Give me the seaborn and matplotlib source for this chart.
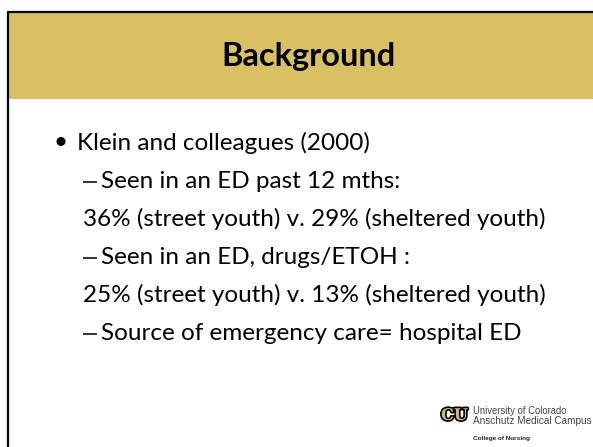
import matplotlib
matplotlib.use("Agg")
import matplotlib.pyplot as plt
import matplotlib.patheffects as pe
from matplotlib.patches import Rectangle
import seaborn as sns

# ---- slide content (text "data") ----
title_text = "Background"
line_texts = [
    "Klein and colleagues (2000)",
    "Seen in an ED past 12 mths:",
    "36% (street youth) v. 29% (sheltered youth)",
    "Seen in an ED, drugs/ETOH :",
    "25% (street youth) v. 13% (sheltered youth)",
    "Source of emergency care= hospital ED",
]
line_levels = ["bullet", "dash", "plain", "dash", "plain", "dash"]
logo_mark = "CU"
logo_lines = ["University of Colorado", "Anschutz Medical Campus"]
logo_sub = "College of Nursing"

sns.set_theme(style="white")
plt.rcParams['font.family'] = ['Lato', 'DejaVu Sans']

W, H = 593, 447
fig = plt.figure(figsize=(W / 100, H / 100), dpi=100)
fig.patch.set_facecolor("white")
ax = fig.add_axes([0, 0, 1, 1])
ax.set_xlim(0, W)
ax.set_ylim(H, 0)
ax.axis("off")

gold = "#D9C163"
ax.add_patch(Rectangle((9, 13), W - 9, 86, facecolor=gold, edgecolor="none"))
ax.plot([7, W], [12, 12], color="black", lw=1.6, solid_capstyle="butt")
ax.plot([8, 8], [11.5, H], color="black", lw=1.6, solid_capstyle="butt")

fig.canvas.draw()
r = fig.canvas.get_renderer()


def fit(t, target_px):
    w = t.get_window_extent(r).width
    t.set_fontsize(t.get_fontsize() * target_px / w)
    return t.get_fontsize()


# Title
tt = ax.text(308, 66, title_text, ha="center", va="baseline",
             fontweight="bold", fontsize=24, color="black")
fit(tt, 174)

# Body
base_y = 150
step = 38
texts = []
for i, (s, lvl) in enumerate(zip(line_texts, line_levels)):
    y = base_y + step * i
    if lvl == "bullet":
        x = 77
    elif lvl == "dash":
        x = 101
    else:
        x = 83
    texts.append(ax.text(x, y, s, ha="left", va="baseline", fontsize=18, color="black"))
fs = fit(texts[2], 462)
for t in texts:
    t.set_fontsize(fs)
for i, lvl in enumerate(line_levels):
    y = base_y + step * i
    if lvl == "bullet":
        ax.text(53, y - 1, "\u2022", ha="left", va="baseline", fontsize=fs, color="black")
    elif lvl == "dash":
        ax.plot([83, 97], [y - 6.5, y - 6.5], color="black", lw=1.1, solid_capstyle="butt")

# Logo
cu_gold = "#CFB87C"
stroke = [pe.withStroke(linewidth=2.4, foreground="black")]
mk = ax.text(441, 420, logo_mark, ha="left", va="baseline", fontsize=12, fontweight="bold",
             color=cu_gold, family=["DejaVu Serif"], path_effects=stroke)
fit(mk, 27)
l1 = ax.text(473, 414, logo_lines[0], ha="left", va="baseline", fontsize=8,
             color="#444444", family=["Liberation Sans"])
fit(l1, 95)
l2 = ax.text(473, 423.5, logo_lines[1], ha="left", va="baseline", fontsize=8,
             color="#444444", family=["Liberation Sans"])
fit(l2, 119)
l3 = ax.text(473, 440, logo_sub, ha="left", va="baseline", fontsize=6,
             color="#222222", fontweight="bold", family=["Liberation Sans"])
fit(l3, 58)

fig.savefig("out.png", dpi=100, facecolor="white")
